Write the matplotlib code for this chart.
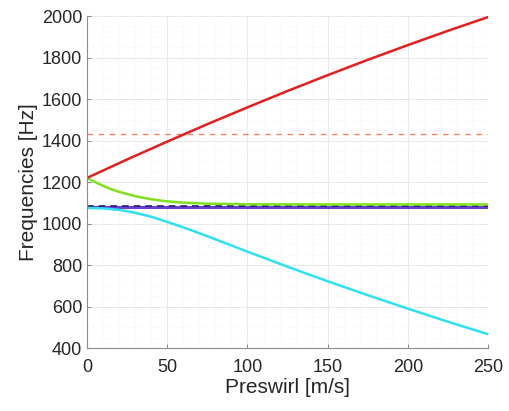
import numpy as np
import matplotlib.pyplot as plt
from matplotlib.ticker import MultipleLocator

# Data (preswirl in m/s, frequencies in Hz)
x_red = [0, 25, 50, 75, 100, 125, 150, 175, 200, 225, 250]
f_red = [1220, 1309, 1395, 1479, 1560, 1639, 1715, 1789, 1860, 1929, 1995]

x_green = [0, 5, 10, 15, 20, 30, 40, 50, 60, 75, 100, 150, 250]
f_green = [1220, 1200, 1182, 1166, 1153, 1132, 1117, 1107, 1101, 1096, 1093, 1092, 1092]

x_cyan = [0, 10, 20, 30, 40, 50, 60, 75, 100, 125, 150, 175, 200, 225, 250]
f_cyan = [1075, 1073, 1066, 1052, 1033, 1008, 982, 939, 865, 792, 722, 655, 590, 527, 467]

x_flat = [0, 250]
f_purple = [1078, 1078]
f_navy_dash = [1085, 1085]
f_orange_dash = [1430, 1430]

plt.rcParams['font.family'] = ['Liberation Sans', 'DejaVu Sans']

fig = plt.figure(figsize=(5.09, 4.11), dpi=100)
ax = fig.add_axes([0.171, 0.153, 0.788, 0.808])

ax.plot(x_flat, f_orange_dash, '--', color='#f4845f', lw=1.0, dashes=(4, 4))
ax.plot(x_flat, f_purple, '-', color='#6a3fd0', lw=2.2)
ax.plot(x_flat, f_navy_dash, '--', color='#1c1f78', lw=1.2, dashes=(4, 3))
ax.plot(x_green, f_green, '-', color='#7fe01e', lw=1.8)
ax.plot(x_cyan, f_cyan, '-', color='#2fe0f0', lw=1.8)
ax.plot(x_red, f_red, '-', color='#e41e1e', lw=1.8)

ax.set_xlim(0, 250)
ax.set_ylim(400, 2000)
ax.xaxis.set_major_locator(MultipleLocator(50))
ax.yaxis.set_major_locator(MultipleLocator(200))
ax.xaxis.set_minor_locator(MultipleLocator(10))
ax.yaxis.set_minor_locator(MultipleLocator(50))

ax.grid(True, which='major', color='#e4e4e4', lw=0.6)
ax.grid(True, which='minor', color='#f1f1f1', lw=0.5, linestyle=':')
ax.set_axisbelow(True)

for s in ['top', 'right']:
    ax.spines[s].set_visible(False)
for s in ['left', 'bottom']:
    ax.spines[s].set_color('#8c8c8c')
    ax.spines[s].set_linewidth(0.8)

ax.tick_params(which='major', direction='in', length=3, color='#8c8c8c',
               labelsize=13, labelcolor='#262626')
ax.tick_params(axis='x', which='major', pad=8)
ax.tick_params(which='minor', length=0)

ax.set_xlabel('Preswirl [m/s]', fontsize=15, color='#262626', labelpad=1)
ax.set_ylabel('Frequencies [Hz]', fontsize=15, color='#262626', labelpad=3)

fig.savefig('out.png', dpi=100)
